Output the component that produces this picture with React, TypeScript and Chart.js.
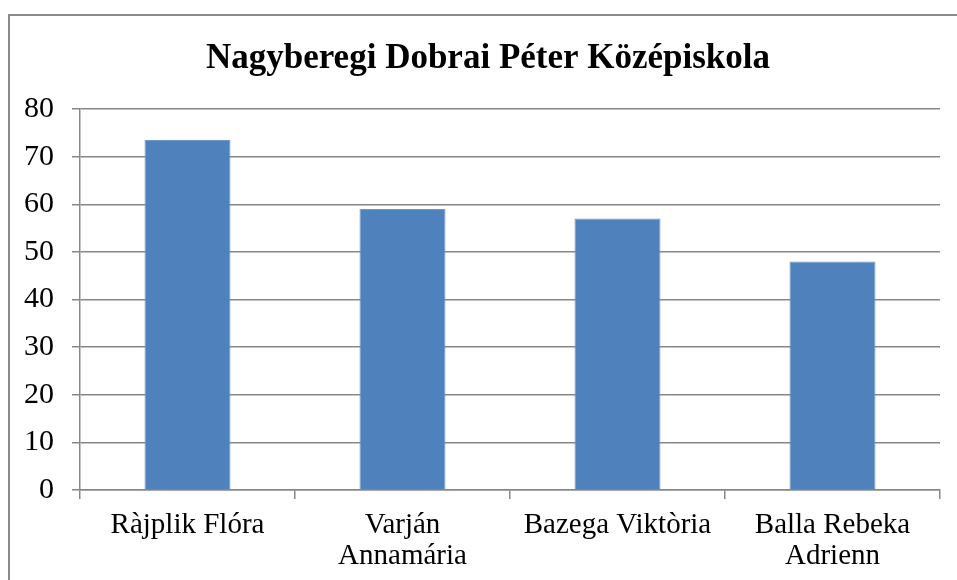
import React, { useEffect, useRef } from "react";
import { Chart, registerables } from "chart.js";

Chart.register(...registerables);

const categories: string[][] = [
  ["Ràjplik Flóra"],
  ["Varján", "Annamária"],
  ["Bazega Viktòria"],
  ["Balla Rebeka", "Adrienn"],
];
const values: number[] = [73.5, 59, 57, 48];
const yTicks: number[] = [0, 10, 20, 30, 40, 50, 60, 70, 80];
const titleText = "Nagyberegi Dobrai Péter Középiskola";

const titlePlugin = {
  id: "shiftedTitle",
  afterDraw(chart: any) {
    const c = chart.ctx;
    c.save();
    c.font = "bold 35px 'Liberation Serif', serif";
    c.fillStyle = "#000";
    c.textAlign = "center";
    c.textBaseline = "alphabetic";
    c.fillText(titleText, 488, 68);
    c.restore();
  },
};

export default function App() {
  const ref = useRef<HTMLCanvasElement | null>(null);
  useEffect(() => {
    document.body.style.margin = "0";
    const ctx = ref.current!;
    const gridColor = "#878787";
    const chart = new Chart(ctx, {
      type: "bar",
      data: {
        labels: categories,
        datasets: [
          {
            data: values,
            backgroundColor: "#4F81BD",
            borderColor: "#6f97cb",
            borderWidth: 1,
            barPercentage: 0.4,
            categoryPercentage: 1,
          },
        ],
      },
      plugins: [titlePlugin],
      options: {
        animation: false,
        responsive: false,
        maintainAspectRatio: false,
        layout: { padding: { left: 0, right: 17, top: 109, bottom: 0 } },
        plugins: {
          legend: { display: false },
          tooltip: { enabled: false },
          title: { display: false },
        },
        scales: {
          x: {
            offset: true,
            grid: {
              offset: true,
              drawOnChartArea: false,
              drawTicks: true,
              tickLength: 9,
              color: gridColor,
              lineWidth: 1.5,
            },
            border: { display: true, color: gridColor, width: 1.5 },
            ticks: {
              color: "#000",
              font: { family: "'Liberation Serif', serif", size: 29, lineHeight: 1.1 },
              padding: 10,
              maxRotation: 0,
              autoSkip: false,
            },
            afterFit: (scale: any) => {
              scale.height = 90;
            },
          },
          y: {
            min: 0,
            max: 80,
            afterBuildTicks: (scale: any) => {
              scale.ticks = yTicks.map((v) => ({ value: v }));
            },
            grid: {
              color: gridColor,
              lineWidth: 1.5,
              drawTicks: true,
              tickLength: 8,
            },
            border: { display: true, color: gridColor, width: 1.5 },
            ticks: {
              color: "#000",
              font: { family: "'Liberation Serif', serif", size: 30 },
              padding: 18,
            },
            afterFit: (scale: any) => {
              scale.width = 80;
            },
          },
        },
      },
    });
    return () => chart.destroy();
  }, []);
  return (
    <div style={{ position: "absolute", left: 0, top: 0, width: 957, height: 580, overflow: "hidden", background: "#fff" }}>
      <div
        style={{
          position: "absolute",
          left: 8,
          top: 14,
          width: 1000,
          height: 700,
          border: "2px solid #8a8a8a",
          boxSizing: "border-box",
        }}
      />
      <canvas ref={ref} width={957} height={580} style={{ position: "absolute", left: 0, top: 0 }} />
    </div>
  );
}
